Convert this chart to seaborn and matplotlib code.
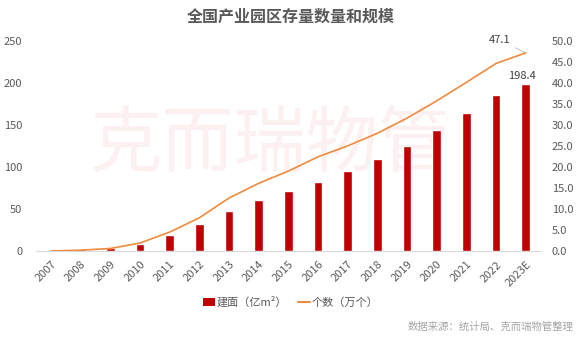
import numpy as np
import pandas as pd
import matplotlib
matplotlib.use("Agg")
import matplotlib.pyplot as plt
import seaborn as sns
from matplotlib.patches import Patch
from matplotlib.lines import Line2D

sns.set_theme(style="white")
plt.rcParams['font.family'] = ['Noto Sans CJK SC', 'DejaVu Sans']

years = ["2007", "2008", "2009", "2010", "2011", "2012", "2013", "2014", "2015",
         "2016", "2017", "2018", "2019", "2020", "2021", "2022", "2023E"]
area = [0.3, 1.8, 3.8, 8.7, 19.4, 32.5, 47.8, 60.3, 71.4, 82.4, 95.1, 109.3,
        125.2, 143.7, 163.5, 186.0, 198.4]
count = [0.0, 0.2, 0.6, 1.9, 4.5, 7.9, 12.6, 16.1, 19.0, 22.4, 25.0, 28.0,
         31.6, 35.7, 40.1, 44.6, 47.1]
left_ticks = [0, 50, 100, 150, 200, 250]
right_ticks = [0, 5, 10, 15, 20, 25, 30, 35, 40, 45, 50]

bar_label = "建面（亿m²）"
line_label = "个数（万个）"
title = "全国产业园区存量数量和规模"
source = "数据来源：统计局、克而瑞物管整理"
watermark = "克而瑞物管"

bar_color = "#C00000"
line_color = "#F08A3C"
text_color = "#595959"

df = pd.DataFrame({"year": years, "area": area, "count": count,
                   "pos": np.arange(len(years))})

fig = plt.figure(figsize=(5.82, 3.39), dpi=100)
ax = fig.add_axes([0.0622, 0.2596, 0.8667, 0.6204])

# watermark (behind bars)
ax.text(0.465, 0.50, watermark, transform=ax.transAxes, fontsize=52,
        color="#FDF0F0", ha="center", va="center", zorder=0)

sns.barplot(data=df, x="year", y="area", color=bar_color, width=0.29,
            saturation=1, ax=ax, zorder=3)
ax.set_ylim(0, 250)
ax.set_xlim(-0.5, len(years) - 0.5)
ax.set_yticks(left_ticks)
ax.set_yticklabels([str(t) for t in left_ticks])
ax.set_xlabel("")
ax.set_ylabel("")

ax2 = ax.twinx()
sns.lineplot(data=df, x="pos", y="count", color=line_color, linewidth=1.2,
             ax=ax2, zorder=4)
ax2.set_ylim(0, 50)
ax2.set_yticks(right_ticks)
ax2.set_yticklabels([f"{t:.1f}" for t in right_ticks])
ax2.set_ylabel("")
ax2.set_xlabel("")
ax.set_xlim(-0.5, len(years) - 0.5)

for a in (ax, ax2):
    for s in a.spines.values():
        s.set_visible(False)
    a.tick_params(axis="both", length=0, colors=text_color, labelsize=8)
ax.spines["bottom"].set_visible(True)
ax.spines["bottom"].set_color("#D9D9D9")
ax.spines["bottom"].set_linewidth(0.8)
ax.tick_params(axis="y", pad=10)
ax2.tick_params(axis="y", pad=8)

for lbl in ax.get_xticklabels():
    lbl.set_rotation(45)
    lbl.set_ha("right")
    lbl.set_rotation_mode("anchor")
ax.tick_params(axis="x", pad=6)

# data labels
last = len(years) - 1
ax.annotate(f"{area[-1]:.1f}", (last, area[-1]), xytext=(-3, 2),
            textcoords="offset points", ha="center", va="bottom",
            fontsize=8, color="#404040")
ax2.annotate(f"{count[-1]:.1f}", (last, count[-1]), xytext=(-11, 9),
             textcoords="offset points", ha="right", va="center",
             fontsize=8, color="#404040",
             arrowprops=dict(arrowstyle="-", color="#BFBFBF", lw=0.6,
                             shrinkA=1, shrinkB=1))

fig.text(0.5, 0.95, title, ha="center", va="center", fontsize=11.5,
         fontweight="bold", color=text_color)

handles = [Patch(facecolor=bar_color, edgecolor="none"),
           Line2D([0], [0], color=line_color, lw=1.5)]
fig.legend(handles, [bar_label, line_label], loc="center",
           bbox_to_anchor=(0.5, 0.108), ncol=2, frameon=False,
           fontsize=8, labelcolor=text_color, handlelength=1.0,
           handleheight=0.8, handletextpad=0.2, columnspacing=1.0)

fig.text(0.985, 0.035, source, ha="right", va="center", fontsize=7.5,
         color="#A6A6A6")

fig.savefig("out.png", dpi=100)
